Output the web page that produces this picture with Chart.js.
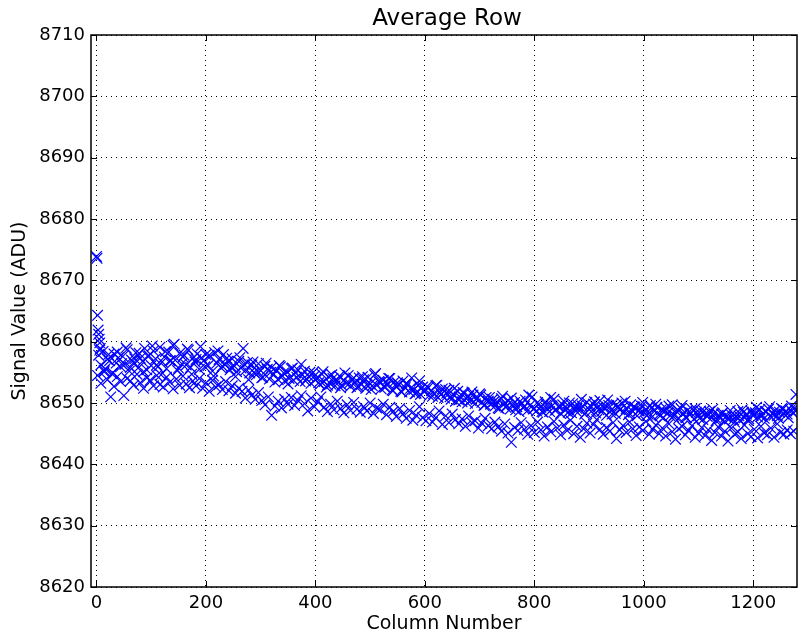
<!DOCTYPE html>
<html>
<head>
<meta charset="utf-8">
<title>Average Row</title>
<script src="https://cdn.jsdelivr.net/npm/chart.js@4/dist/chart.umd.min.js"></script>
<style>
  html, body { margin: 0; padding: 0; background: #fff; }
  canvas { display: block; }
</style>
</head>
<body>
<canvas id="rowChart" width="798" height="635"></canvas>
<script>
// axis ticks
const xTicks = [0, 200, 400, 600, 800, 1000, 1200];
const yTicks = [8620, 8630, 8640, 8650, 8660, 8670, 8680, 8690, 8700, 8710];

// first columns and the last one stand apart from the rest
const edgeCols = [0, 1, 2, 3, 4, 5, 6, 7, 1278];
const edgeVals = [8673.9, 8673.6, 8664.3, 8661.9, 8661.2, 8660.4, 8659.8, 8658.9, 8651.4];

// upper run of columns, every 4th column starting at 4
const upperStart = 4, upperStep = 4;
const upperVals = [
  8657.8, 8656.2, 8658.4, 8655.6, 8657.1, 8656.9, 8654.8, 8658.0, 8656.5, 8657.4,
  8655.9, 8657.6, 8656.3, 8658.7, 8655.2, 8657.0, 8656.6, 8658.2, 8655.7, 8657.3,
  8656.8, 8658.9, 8655.4, 8657.7, 8656.1, 8658.5, 8657.2, 8655.9, 8659.1, 8656.7,
  8657.5, 8655.6, 8658.3, 8656.9, 8659.4, 8657.0, 8655.3, 8658.1, 8656.4, 8657.8,
  8656.2, 8658.6, 8655.8, 8657.3, 8656.7, 8658.0, 8655.5, 8657.4, 8656.9, 8657.9,
  8656.1, 8657.6, 8655.2, 8658.2, 8656.5, 8657.1, 8655.7, 8657.9, 8656.3, 8656.8,
  8655.4, 8657.2, 8656.0, 8655.1, 8656.8, 8655.7, 8658.9, 8655.3, 8656.6, 8654.9,
  8656.2, 8655.0, 8654.6, 8656.4, 8655.3, 8654.2, 8656.0, 8655.5, 8653.9, 8655.8,
  8654.7, 8655.3, 8653.8, 8655.9, 8654.4, 8653.6, 8655.1, 8654.0, 8655.6, 8653.7,
  8654.9, 8655.4, 8653.5, 8654.6, 8655.2, 8653.9, 8654.3, 8653.2, 8655.0, 8653.8,
  8654.1, 8653.0, 8654.7, 8653.5, 8652.6, 8654.3, 8653.1, 8654.0, 8652.8, 8653.6,
  8654.4, 8652.9, 8653.7, 8653.2, 8654.5, 8652.7, 8653.9, 8653.3, 8652.5, 8654.1,
  8653.0, 8653.8, 8652.4, 8654.2, 8653.1, 8652.8, 8654.6, 8652.9, 8653.5, 8652.3,
  8653.7, 8652.6, 8653.2, 8654.0, 8652.1, 8653.4, 8652.7, 8653.0, 8651.9, 8653.6,
  8652.5, 8653.1, 8651.8, 8654.1, 8652.2, 8651.6, 8652.9, 8651.4, 8652.6, 8651.9,
  8652.7, 8651.2, 8652.0, 8651.5, 8652.8, 8650.9, 8651.7, 8652.3, 8650.8, 8651.6,
  8652.1, 8650.6, 8651.4, 8650.3, 8651.9, 8651.0, 8650.2, 8651.6, 8650.7, 8651.1,
  8650.4, 8651.3, 8649.9, 8650.8, 8651.5, 8650.1, 8649.6, 8650.9, 8650.3, 8649.8,
  8650.6, 8649.5, 8650.2, 8649.1, 8650.7, 8649.8, 8649.3, 8650.4, 8649.0, 8649.7,
  8650.1, 8649.4, 8648.6, 8649.9, 8649.2, 8650.5, 8648.8, 8649.6, 8651.0, 8649.1,
  8648.7, 8649.8, 8649.3, 8648.5, 8650.2, 8649.0, 8648.6, 8649.5, 8650.6, 8648.9,
  8649.4, 8648.3, 8649.7, 8648.8, 8649.2, 8650.0, 8648.4, 8649.1, 8648.7, 8649.6,
  8648.9, 8649.5, 8648.2, 8650.1, 8649.0, 8648.6, 8649.8, 8648.4, 8649.3, 8650.4,
  8648.7, 8649.2, 8648.0, 8649.6, 8648.8, 8649.9, 8648.3, 8649.4, 8648.9, 8650.0,
  8648.5, 8649.1, 8648.1, 8649.7, 8648.6, 8649.3, 8647.9, 8648.8, 8649.5, 8648.4,
  8649.0, 8648.2, 8649.6, 8647.8, 8648.7, 8649.3, 8648.1, 8648.9, 8647.6, 8649.2,
  8648.4, 8647.9, 8649.7, 8648.0, 8648.6, 8647.5, 8649.1, 8648.3, 8647.7, 8648.8,
  8648.1, 8649.0, 8647.4, 8648.5, 8647.9, 8648.7, 8647.3, 8648.2, 8647.8, 8648.6,
  8647.6, 8648.3, 8647.1, 8648.0, 8647.5, 8648.4, 8647.0, 8647.9, 8647.4, 8648.1,
  8647.3, 8647.8, 8648.6, 8647.2, 8648.9, 8647.6, 8648.2, 8647.4, 8648.7, 8647.9,
  8648.4, 8647.7, 8648.9, 8648.1, 8647.5, 8648.6, 8649.0, 8647.8, 8648.3, 8648.8,
  8647.9, 8648.5, 8649.1, 8648.2, 8648.7, 8647.6, 8648.9, 8648.4, 8649.2
];

// second pass over the upper run, every 8th column starting at 6
const upper2Start = 6, upper2Step = 8;
const upper2Vals = [
  8658.6, 8655.3, 8657.9, 8654.9, 8658.3, 8656.4, 8659.0, 8655.8, 8657.2, 8658.1,
  8655.1, 8657.6, 8659.3, 8656.2, 8654.6, 8658.4, 8656.9, 8659.6, 8655.7, 8657.5,
  8658.8, 8654.7, 8657.1, 8659.2, 8655.9, 8657.8, 8654.4, 8658.5, 8656.0, 8657.3,
  8655.8, 8654.3, 8657.4, 8656.3, 8653.8, 8656.7, 8655.2, 8654.1, 8656.5, 8655.0,
  8653.4, 8656.1, 8654.9, 8653.1, 8655.7, 8654.2, 8656.3, 8653.6, 8655.0, 8654.4,
  8653.3, 8655.1, 8652.9, 8654.6, 8653.7, 8652.5, 8654.9, 8653.2, 8654.1, 8652.7,
  8654.3, 8653.0, 8652.2, 8654.8, 8653.4, 8652.6, 8654.0, 8652.0, 8653.3, 8651.8,
  8653.2, 8652.4, 8651.5, 8653.6, 8651.9, 8652.5, 8651.1, 8652.9, 8651.4, 8652.2,
  8651.0, 8652.4, 8650.5, 8651.7, 8650.0, 8651.8, 8650.6, 8651.3, 8649.7, 8650.9,
  8650.2, 8649.2, 8651.1, 8649.6, 8650.8, 8648.9, 8650.3, 8649.5, 8651.3, 8649.0,
  8650.1, 8648.6, 8649.7, 8650.9, 8648.8, 8649.4, 8650.3, 8648.5, 8649.9, 8649.1,
  8650.6, 8648.4, 8649.6, 8650.2, 8648.9, 8649.3, 8650.5, 8648.2, 8649.7, 8649.0,
  8650.3, 8648.3, 8649.4, 8648.7, 8650.1, 8648.0, 8649.2, 8649.8, 8647.9, 8648.6,
  8649.5, 8647.8, 8648.9, 8649.6, 8647.6, 8648.4, 8649.1, 8647.5, 8648.7, 8648.1,
  8649.0, 8647.3, 8648.2, 8647.7, 8648.8, 8646.9, 8647.9, 8648.5, 8647.2, 8648.3,
  8649.3, 8647.8, 8648.6, 8649.4, 8648.0, 8647.5, 8649.0, 8648.2, 8649.5, 8648.7
];

// lower run of columns, every 6th column starting at 2
const lowerStart = 2, lowerStep = 6;
const lowerVals = [
  8654.5, 8653.2, 8655.1, 8653.8, 8651.0, 8652.7, 8654.3, 8653.5, 8651.2, 8654.0,
  8653.6, 8652.9, 8654.7, 8653.3, 8652.4, 8654.1, 8653.7, 8652.8, 8654.5, 8653.0,
  8652.6, 8654.2, 8653.4, 8652.3, 8653.9, 8652.9, 8654.4, 8653.1, 8652.5, 8653.6,
  8652.8, 8654.0, 8652.4, 8653.3, 8651.9, 8653.7, 8652.6, 8653.0, 8652.2, 8653.5,
  8652.0, 8652.8, 8651.6, 8652.4, 8651.9, 8650.8, 8652.1, 8651.3, 8650.6, 8651.7,
  8650.4, 8649.7, 8651.0, 8648.0, 8649.5, 8650.3, 8649.2, 8650.6, 8649.8, 8650.9,
  8649.6, 8650.4, 8651.2, 8649.9, 8648.7, 8650.8, 8649.4, 8650.2, 8651.0, 8649.3,
  8648.6, 8649.8, 8648.9, 8650.3, 8649.1, 8648.4, 8649.7, 8648.8, 8650.1, 8649.0,
  8648.5, 8649.4, 8648.7, 8650.0, 8648.3, 8649.2, 8648.9, 8649.8, 8648.1, 8649.3,
  8648.6, 8647.8, 8649.1, 8648.2, 8647.5, 8648.8, 8647.2, 8648.0, 8649.4, 8647.6,
  8647.1, 8648.3, 8646.9, 8647.6, 8648.7, 8646.5, 8647.9, 8646.8, 8648.2, 8647.3,
  8646.6, 8647.4, 8646.2, 8647.9, 8646.8, 8647.1, 8645.9, 8646.7, 8647.5, 8646.3,
  8645.8, 8646.9, 8646.1, 8645.4, 8646.6, 8645.1, 8643.6, 8646.0, 8645.5, 8646.8,
  8645.7, 8644.9, 8646.3, 8645.2, 8646.9, 8645.6, 8644.6, 8646.1, 8645.3, 8647.0,
  8645.9, 8644.8, 8646.4, 8645.5, 8647.2, 8645.0, 8646.2, 8644.4, 8645.8, 8646.7,
  8645.1, 8646.5, 8647.3, 8645.7, 8644.9, 8646.0, 8645.4, 8646.8, 8644.2, 8645.6,
  8646.3, 8645.2, 8646.9, 8645.8, 8644.7, 8646.1, 8645.5, 8647.0, 8644.9, 8645.7,
  8646.4, 8645.0, 8645.9, 8644.6, 8646.6, 8645.3, 8644.1, 8645.8, 8646.2, 8644.8,
  8645.5, 8646.3, 8644.4, 8645.1, 8646.0, 8644.7, 8645.6, 8643.9, 8645.2, 8646.1,
  8644.6, 8645.4, 8643.8, 8645.9, 8644.9, 8645.3, 8644.2, 8646.4, 8645.0, 8644.5,
  8645.7, 8644.3, 8646.2, 8645.1, 8644.8, 8645.9, 8644.4, 8646.6, 8645.2, 8644.9,
  8645.6, 8645.0, 8645.4
];

const FONT = "'DejaVu Sans', sans-serif";
const TITLE = 'Average Row';

function toPoints(cols, vals) {
  return vals.map((v, i) => ({ x: cols[i], y: v }));
}
function runPoints(start, step, vals) {
  return vals.map((v, i) => ({ x: start + i * step, y: v }));
}

const markerStyle = {
  showLine: false,
  pointStyle: 'crossRot',
  pointRadius: 7.5,
  pointHoverRadius: 7.5,
  borderColor: '#0000ff',
  backgroundColor: '#0000ff',
  pointBorderWidth: 1.2,
  clip: 0
};

// matplotlib-like box: frame on all four sides, ticks pointing inward,
// title centred over the plot area rather than the canvas
const framePlugin = {
  id: 'frame',
  afterDraw(chart) {
    const { ctx, chartArea: a, scales: { x, y } } = chart;
    ctx.save();
    ctx.strokeStyle = '#000';
    ctx.lineWidth = 1;
    ctx.beginPath();
    xTicks.forEach(v => {
      const px = Math.round(x.getPixelForValue(v)) + 0.5;
      ctx.moveTo(px, a.bottom); ctx.lineTo(px, a.bottom - 6);
      ctx.moveTo(px, a.top); ctx.lineTo(px, a.top + 6);
    });
    yTicks.forEach(v => {
      const py = Math.round(y.getPixelForValue(v)) + 0.5;
      ctx.moveTo(a.left, py); ctx.lineTo(a.left + 6, py);
      ctx.moveTo(a.right, py); ctx.lineTo(a.right - 6, py);
    });
    ctx.stroke();
    ctx.lineWidth = 1.5;
    ctx.strokeRect(a.left, a.top, a.right - a.left, a.bottom - a.top);

    ctx.fillStyle = '#000';
    ctx.font = '23px ' + FONT;
    ctx.textAlign = 'center';
    ctx.textBaseline = 'middle';
    ctx.fillText(TITLE, (a.left + a.right) / 2 + 3, 19);
    ctx.restore();
  }
};

function noPadding(s) {
  s.paddingLeft = 0; s.paddingRight = 0;
  s.paddingTop = 0; s.paddingBottom = 0;
}

new Chart(document.getElementById('rowChart'), {
  type: 'scatter',
  data: {
    datasets: [
      Object.assign({ label: 'upper', data: runPoints(upperStart, upperStep, upperVals) }, markerStyle),
      Object.assign({ label: 'upper2', data: runPoints(upper2Start, upper2Step, upper2Vals) }, markerStyle),
      Object.assign({ label: 'lower', data: runPoints(lowerStart, lowerStep, lowerVals) }, markerStyle),
      Object.assign({ label: 'edge', data: toPoints(edgeCols, edgeVals) }, markerStyle)
    ]
  },
  options: {
    responsive: false,
    animation: false,
    events: [],
    layout: { autoPadding: false, padding: { left: 0, right: 1, top: 35, bottom: 0 } },
    plugins: {
      legend: { display: false },
      tooltip: { enabled: false },
      title: { display: false }
    },
    scales: {
      x: {
        type: 'linear',
        min: -10,
        max: 1280,
        afterBuildTicks: s => { s.ticks = xTicks.map(v => ({ value: v })); },
        afterFit: s => { s.height = 48; noPadding(s); },
        grid: { color: '#000', lineWidth: 1, drawTicks: false },
        border: { display: false, dash: [1, 4] },
        ticks: {
          color: '#000',
          padding: 6,
          maxRotation: 0,
          font: { family: FONT, size: 18 },
          callback: v => String(v)
        },
        title: {
          display: true,
          text: 'Column Number',
          color: '#000',
          font: { family: FONT, size: 19 },
          padding: { top: 0, bottom: 0 }
        }
      },
      y: {
        type: 'linear',
        min: 8620,
        max: 8710,
        afterBuildTicks: s => { s.ticks = yTicks.map(v => ({ value: v })); },
        afterFit: s => { s.width = 91; noPadding(s); },
        grid: { color: '#000', lineWidth: 1, drawTicks: false },
        border: { display: false, dash: [1, 4] },
        ticks: {
          color: '#000',
          padding: 6,
          font: { family: FONT, size: 18 },
          callback: v => String(v)
        },
        title: {
          display: true,
          text: 'Signal Value (ADU)',
          color: '#000',
          font: { family: FONT, size: 19 },
          padding: { top: 9, bottom: 0 }
        }
      }
    }
  },
  plugins: [framePlugin]
});
</script>
</body>
</html>
